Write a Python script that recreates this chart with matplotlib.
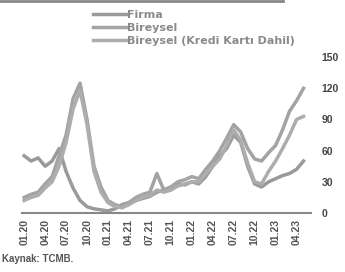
import matplotlib
matplotlib.use("Agg")
import matplotlib.pyplot as plt
from matplotlib.lines import Line2D

plt.rcParams["font.family"] = ["Liberation Sans Narrow", "Liberation Sans", "DejaVu Sans"]

# month index from 01.2020
months = list(range(41))
tick_pos = list(range(0, 40, 3))
tick_labels = ["01.20", "04.20", "07.20", "10.20", "01.21", "04.21", "07.21",
               "10.21", "01.22", "04.22", "07.22", "10.22", "01.23", "04.23"]

firma = [55, 50, 53, 45, 50, 62, 40, 24, 12, 6, 4, 3, 2, 4, 8, 10, 12, 14, 16, 20,
         22, 25, 28, 27, 30, 28, 35, 45, 55, 62, 75, 68, 45, 28, 25, 30, 33, 36, 38, 42, 50]
bireysel = [15, 18, 20, 28, 35, 55, 75, 110, 125, 90, 45, 25, 12, 8, 6, 10, 15, 18, 20, 38,
            22, 25, 30, 32, 35, 33, 42, 50, 60, 72, 85, 78, 62, 52, 50, 58, 65, 80, 98, 108, 120]
bireysel_kk = [12, 15, 17, 24, 30, 45, 68, 100, 118, 85, 40, 20, 10, 6, 5, 8, 12, 15, 17, 22,
               20, 22, 26, 28, 30, 30, 38, 45, 52, 65, 80, 70, 48, 30, 28, 40, 50, 62, 75, 90, 93]

fig = plt.figure(figsize=(3.45, 2.72), dpi=100)
ax = fig.add_axes([0.064, 0.217, 0.836, 0.573])

ax.plot(months, firma, color="#9a9a9a", lw=2.5, label="Firma")
ax.plot(months, bireysel, color="#a3a3a3", lw=2.5, label="Bireysel")
ax.plot(months, bireysel_kk, color="#adadad", lw=2.5, label="Bireysel (Kredi Kartı Dahil)")

ax.set_xlim(-0.3, 41)
ax.set_ylim(0, 150)
ax.set_yticks([0, 30, 60, 90, 120, 150])
ax.yaxis.tick_right()
ax.tick_params(axis="y", length=0, pad=8, labelsize=7.5, labelcolor="#444444")
for t in ax.get_yticklabels():
    t.set_fontweight("bold")
ax.set_xticks(tick_pos)
ax.set_xticklabels(tick_labels, rotation=90, fontsize=7.5, fontweight="bold", color="#555555")
ax.tick_params(axis="x", length=0, pad=4)

for s in ["top", "left", "right"]:
    ax.spines[s].set_visible(False)
ax.spines["bottom"].set_color("#888888")
ax.spines["bottom"].set_linewidth(1.5)

fig.legend(loc="upper left", bbox_to_anchor=(0.24, 1.0), frameon=False,
           handlelength=3.0, handletextpad=0.1, labelspacing=0.25, labelcolor="#8a8a8a",
           prop={"family": ["Liberation Sans Narrow", "DejaVu Sans"], "weight": "bold", "size": 8})

fig.text(0.005, 0.035, "Kaynak: TCMB.", fontsize=7, fontweight="bold", color="#555555")
fig.add_artist(Line2D([0.0, 0.82], [0.995, 0.995], color="#888888", lw=2, transform=fig.transFigure))

fig.savefig("out.png", dpi=100)
